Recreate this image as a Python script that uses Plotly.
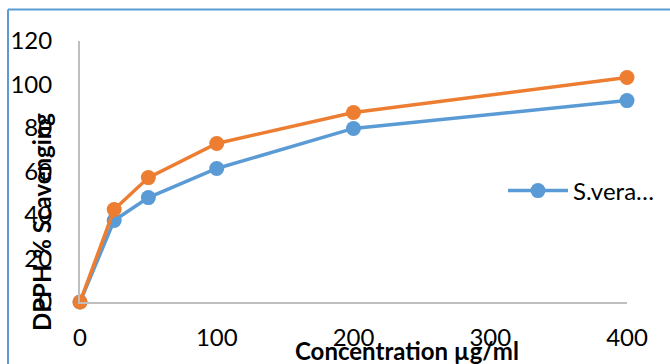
import plotly.graph_objects as go

# Concentrations (µg/ml) and DPPH scavenging (%)
concentration = [0, 25, 50, 100, 200, 400]
s_vera = [0, 37.5, 48.0, 61.4, 79.8, 92.6]
standard = [0, 42.5, 57.2, 72.9, 87.1, 103.2]

x_ticks = [0, 100, 200, 300, 400]
y_ticks = [0, 20, 40, 60, 80, 100, 120]

BLUE = "#5B9BD5"
ORANGE = "#ED7D31"
AXIS = "#BFBFBF"
FONT = "Lato"

fig = go.Figure()
fig.add_trace(go.Scatter(
    x=concentration, y=s_vera, name="S.vera…", mode="lines+markers",
    line=dict(color=BLUE, width=3.5), marker=dict(color=BLUE, size=15),
    cliponaxis=False,
))
fig.add_trace(go.Scatter(
    x=concentration, y=standard, name="Standard", mode="lines+markers",
    line=dict(color=ORANGE, width=3.5), marker=dict(color=ORANGE, size=15),
    cliponaxis=False, showlegend=False,
))

fig.update_layout(
    width=670, height=364,
    margin=dict(l=80, r=43, t=41, b=62, autoexpand=False),
    paper_bgcolor="white", plot_bgcolor="white",
    font=dict(family=FONT, size=24, color="black"),
    legend=dict(xref="container", yref="container", x=503 / 670, y=1 - 191 / 364,
                xanchor="left", yanchor="middle",
                itemwidth=60, bgcolor="rgba(0,0,0,0)", font=dict(size=24)),
    xaxis=dict(range=[0, 400], tickvals=x_ticks, showgrid=False, zeroline=False,
               showline=True, linecolor=AXIS, linewidth=2, ticks="",
               ticklabelstandoff=13, automargin=False),
    yaxis=dict(range=[0, 120], tickvals=y_ticks, showgrid=False, zeroline=False,
               showline=True, linecolor=AXIS, linewidth=2, ticks="",
               ticklabelstandoff=21, automargin=False),
    annotations=[
        dict(text="<b>Concentration µg/ml</b>", xref="paper", yref="paper",
             x=(407 - 80) / 547, y=-(350 - 302) / 261, showarrow=False,
             xanchor="center", yanchor="middle", font=dict(size=24)),
        dict(text="<b>DPPH % Scavenging</b>", xref="paper", yref="paper",
             x=-(80 - 41) / 547, y=(302 - 222) / 261, textangle=-90,
             showarrow=False, xanchor="center", yanchor="middle",
             font=dict(size=24)),
    ],
    shapes=[
        # chart frame edges (top and left)
        dict(type="line", xref="paper", yref="paper",
             x0=-(80 - 8) / 547, x1=1.2, y0=(302 - 9.5) / 261, y1=(302 - 9.5) / 261,
             line=dict(color=BLUE, width=2)),
        dict(type="line", xref="paper", yref="paper",
             x0=-(80 - 8) / 547, x1=-(80 - 8) / 547, y0=-0.5, y1=(302 - 9.5) / 261,
             line=dict(color=BLUE, width=2)),
    ],
)

fig.write_html("out.html")
